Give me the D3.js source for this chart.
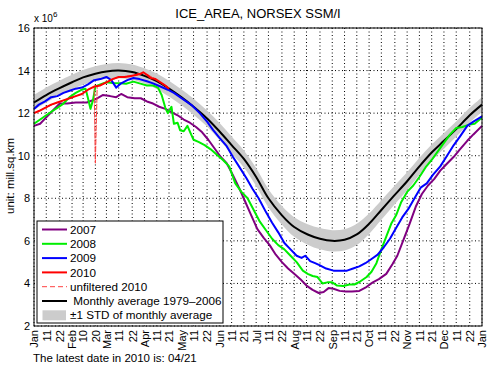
<!DOCTYPE html>
<html>
<head>
<meta charset="utf-8">
<script src="https://cdn.jsdelivr.net/npm/d3@7"></script>
<style>
  body { margin: 0; background: #fff; }
  svg { display: block; font-family: "Liberation Sans", Arial, sans-serif; }
</style>
</head>
<body>
<div id="chart"></div>
<script>
// x ticks: day of year and labels
const xTickDays = [1, 11, 22, 32, 41, 51, 60, 70, 81, 91, 101, 111, 121, 131, 142, 152, 162, 172,
  182, 192, 203, 213, 223, 234, 244, 254, 264, 274, 284, 295, 305, 315, 325, 335, 345, 356, 366];
const xTickLabels = ['Jan', '11', '22', 'Feb', '10', '20', 'Mar', '11', '22', 'Apr', '11', '21',
  'May', '11', '22', 'Jun', '11', '21', 'Jul', '11', '22', 'Aug', '11', '22', 'Sep', '11', '21',
  'Oct', '11', '22', 'Nov', '11', '21', 'Dec', '11', '22', 'Jan'];
const yTicks = [2, 4, 6, 8, 10, 12, 14, 16];

// monthly average 1979-2006 [day, mill. sq km] and its std
const avgArea = [[1, 12.5], [11, 12.85], [21, 13.15], [32, 13.45], [41, 13.68], [51, 13.85], [60, 13.96],
  [70, 14.0], [81, 13.93], [91, 13.75], [101, 13.5], [111, 13.15], [121, 12.75], [131, 12.3],
  [142, 11.75], [152, 11.15], [162, 10.5], [172, 9.85], [182, 9.0], [192, 8.0], [203, 7.2],
  [213, 6.65], [224, 6.3], [234, 6.1], [244, 6.0], [254, 6.05], [264, 6.3], [274, 6.8], [284, 7.45],
  [294, 8.1], [305, 8.8], [315, 9.5], [325, 10.15], [335, 10.7], [345, 11.25], [356, 11.9], [366, 12.4]];
const avgStd = [0.35, 0.35, 0.35, 0.35, 0.35, 0.35, 0.35, 0.36, 0.36, 0.36, 0.36, 0.37, 0.37, 0.38,
  0.38, 0.4, 0.4, 0.4, 0.42, 0.43, 0.44, 0.46, 0.48, 0.5, 0.5, 0.5, 0.5, 0.48, 0.46, 0.44,
  0.42, 0.4, 0.38, 0.37, 0.36, 0.35, 0.35];

const ice2007 = [[1, 11.4], [6, 11.5], [11, 11.8], [16, 12.1], [22, 12.45], [28, 12.45], [35, 12.5],
  [44, 12.5], [51, 12.65], [57, 12.85], [63, 12.8], [68, 12.75], [72, 12.9], [77, 12.75], [83, 12.7],
  [88, 12.7], [93, 12.55], [98, 12.45], [103, 12.3], [108, 12.2], [113, 12.05], [118, 11.9],
  [123, 11.7], [128, 11.55], [133, 11.35], [138, 11.1], [143, 10.75], [148, 10.35], [153, 9.95],
  [158, 9.65], [163, 9.1], [168, 8.5], [173, 7.85], [178, 7.2], [183, 6.55], [188, 6.15], [193, 5.8],
  [198, 5.35], [203, 5.0], [208, 4.7], [213, 4.45], [218, 4.2], [223, 3.9], [228, 3.7], [233, 3.55],
  [237, 3.6], [241, 3.78], [245, 3.75], [250, 3.65], [255, 3.62], [260, 3.62], [266, 3.65],
  [271, 3.8], [277, 4.05], [282, 4.2], [288, 4.45], [293, 4.9], [297, 5.3], [302, 6.05], [307, 6.8],
  [312, 7.6], [317, 8.2], [322, 8.6], [327, 8.9], [332, 9.3], [337, 9.6], [343, 9.95], [348, 10.3],
  [354, 10.7], [359, 11.0], [366, 11.4]];

const ice2008 = [[1, 11.5], [6, 11.7], [11, 11.9], [16, 12.1], [20, 12.25], [25, 12.45], [30, 12.75],
  [35, 12.95], [40, 13.1], [43, 13.15], [45, 12.7], [47, 12.2], [49, 12.6], [51, 13.25], [55, 13.35],
  [60, 13.45], [65, 13.42], [71, 13.4], [76, 13.38], [82, 13.48], [87, 13.4], [93, 13.3], [98, 13.3],
  [102, 13.2], [105, 12.85], [108, 12.25], [110, 12.0], [113, 12.3], [115, 11.5], [118, 11.55],
  [120, 11.2], [123, 11.15], [126, 11.4], [129, 11.0], [131, 10.75], [135, 10.65], [140, 10.5],
  [145, 10.3], [150, 10.05], [155, 9.8], [160, 9.5], [165, 8.7], [170, 8.3], [175, 8.0], [180, 7.45],
  [185, 6.9], [190, 6.5], [195, 6.1], [200, 5.8], [205, 5.6], [210, 5.3], [215, 5.0], [220, 4.6],
  [224, 4.45], [228, 4.35], [232, 4.3], [236, 4.0], [240, 4.05], [244, 4.05], [248, 3.9], [253, 3.88],
  [258, 3.95], [262, 3.95], [267, 4.1], [272, 4.3], [276, 4.55], [280, 4.95], [284, 5.6], [288, 6.2],
  [292, 6.8], [296, 7.2], [300, 7.8], [305, 8.3], [310, 8.6], [315, 9.0], [320, 9.45], [325, 9.8],
  [330, 10.2], [335, 10.6], [340, 11.0], [345, 11.3], [350, 11.35], [355, 11.45], [360, 11.5], [366, 11.8]];

const ice2009 = [[1, 12.2], [5, 12.4], [10, 12.55], [15, 12.75], [20, 12.8], [25, 12.95], [30, 13.05],
  [35, 13.15], [40, 13.2], [45, 13.35], [50, 13.55], [55, 13.6], [60, 13.7], [64, 13.55], [68, 13.2],
  [72, 13.4], [77, 13.55], [82, 13.65], [87, 13.6], [93, 13.5], [98, 13.4], [104, 13.25], [110, 13.1],
  [115, 12.95], [120, 12.75], [125, 12.55], [130, 12.35], [136, 12.0], [142, 11.6], [147, 11.2],
  [152, 10.85], [158, 10.45], [163, 9.95], [168, 9.5], [174, 8.95], [179, 8.45], [184, 8.0], [190, 7.35],
  [195, 6.85], [200, 6.4], [205, 5.9], [210, 5.6], [215, 5.3], [219, 5.2], [222, 5.3], [226, 5.05],
  [230, 4.95], [234, 4.85], [239, 4.7], [245, 4.6], [250, 4.6], [256, 4.6], [261, 4.7], [266, 4.8],
  [271, 4.95], [276, 5.15], [281, 5.35], [286, 5.7], [291, 6.1], [296, 6.6], [301, 7.1], [306, 7.5],
  [311, 8.0], [316, 8.5], [321, 8.7], [326, 9.1], [332, 9.5], [337, 9.95], [343, 10.5], [348, 10.9],
  [354, 11.4], [359, 11.6], [366, 11.85]];

const ice2010 = [[1, 12.0], [5, 12.1], [10, 12.25], [15, 12.4], [20, 12.5], [25, 12.6], [30, 12.7],
  [35, 12.8], [40, 12.9], [45, 13.1], [50, 13.25], [55, 13.3], [60, 13.45], [65, 13.6], [70, 13.7],
  [75, 13.7], [80, 13.75], [85, 13.8], [88, 13.85], [90, 13.92], [93, 13.8], [96, 13.65], [100, 13.6],
  [104, 13.45], [108, 13.3], [111, 13.15]];

const ice2010raw = [[1, 12.0], [10, 12.25], [20, 12.5], [30, 12.7], [40, 12.9], [45, 13.1], [50, 13.25],
  [51, 9.65], [52.5, 13.3], [55, 13.3], [60, 13.45], [70, 13.7], [80, 13.75], [90, 13.92], [100, 13.6],
  [111, 13.15]];

function drawIceChart() {
  const W = 492, H = 369;
  const margin = { top: 28, right: 10, bottom: 43, left: 34 };
  const width = W - margin.left - margin.right;
  const height = H - margin.top - margin.bottom;

  const svg = d3.select('#chart').append('svg')
      .attr('width', W)
      .attr('height', H);

  const g = svg.append('g')
      .attr('transform', `translate(${margin.left},${margin.top})`);

  const x = d3.scaleLinear().domain([1, 366]).range([0, width]);
  const y = d3.scaleLinear().domain([2, 16]).range([height, 0]);

  // dotted grid
  g.append('g').selectAll('line.vgrid')
    .data(xTickDays)
    .enter().append('line')
      .attr('x1', d => x(d)).attr('x2', d => x(d))
      .attr('y1', 0).attr('y2', height)
      .attr('stroke', '#000')
      .attr('stroke-width', 1)
      .attr('stroke-dasharray', '1,2.5');

  g.append('g').selectAll('line.hgrid')
    .data(yTicks)
    .enter().append('line')
      .attr('x1', 0).attr('x2', width)
      .attr('y1', d => y(d)).attr('y2', d => y(d))
      .attr('stroke', '#000')
      .attr('stroke-width', 1)
      .attr('stroke-dasharray', '1,2.5');

  // std band
  const band = d3.area()
    .x(d => x(d[0]))
    .y0((d, i) => y(d[1] - avgStd[i]))
    .y1((d, i) => y(d[1] + avgStd[i]))
    .curve(d3.curveCatmullRom);

  g.append('path')
    .datum(avgArea)
    .attr('d', band)
    .attr('fill', '#cccccc');

  const line = d3.line()
    .x(d => x(d[0]))
    .y(d => y(d[1]));

  g.append('path')
    .datum(avgArea)
    .attr('d', line.curve(d3.curveCatmullRom))
    .attr('fill', 'none')
    .attr('stroke', '#000')
    .attr('stroke-width', 2);

  line.curve(d3.curveLinear);

  const series = [
    { data: ice2007, color: '#800080' },
    { data: ice2008, color: '#00ee00' },
    { data: ice2009, color: '#0000ff' }
  ];

  series.forEach(s => {
    g.append('path')
      .datum(s.data)
      .attr('d', line)
      .attr('fill', 'none')
      .attr('stroke', s.color)
      .attr('stroke-width', 2)
      .attr('stroke-linejoin', 'round');
  });

  g.append('path')
    .datum(ice2010raw)
    .attr('d', line)
    .attr('fill', 'none')
    .attr('stroke', '#ff4040')
    .attr('stroke-width', 1)
    .attr('stroke-dasharray', '6,1');

  g.append('path')
    .datum(ice2010)
    .attr('d', line)
    .attr('fill', 'none')
    .attr('stroke', '#ff0000')
    .attr('stroke-width', 2)
    .attr('stroke-linejoin', 'round');

  // axes
  const xAxis = d3.axisBottom(x)
    .tickValues(xTickDays)
    .tickFormat((d, i) => xTickLabels[i])
    .tickSize(0);

  const xg = g.append('g')
      .attr('transform', `translate(0,${height})`)
      .call(xAxis);
  xg.select('.domain').remove();
  xg.selectAll('text')
      .attr('x', -4)
      .attr('y', 0)
      .attr('dy', '0.35em')
      .attr('transform', 'rotate(-90)')
      .style('text-anchor', 'end')
      .style('font-size', '11px')
      .style('font-family', '"Liberation Sans", Arial, sans-serif');

  const yAxis = d3.axisLeft(y).tickValues(yTicks).tickSize(0).tickPadding(4);
  const yg = g.append('g').call(yAxis);
  yg.select('.domain').remove();
  yg.selectAll('text')
      .style('font-size', '11px')
      .style('font-family', '"Liberation Sans", Arial, sans-serif');

  // box
  g.append('rect')
    .attr('width', width)
    .attr('height', height)
    .attr('fill', 'none')
    .attr('stroke', '#000')
    .attr('stroke-width', 1);

  // exponent label
  const expo = svg.append('text')
      .attr('x', margin.left)
      .attr('y', 22)
      .style('font-size', '10px')
      .text('x 10');
  expo.append('tspan')
      .attr('dy', -5)
      .style('font-size', '8px')
      .text('6');

  // title
  svg.append('text')
    .attr('x', margin.left + width / 2)
    .attr('y', 18)
    .attr('text-anchor', 'middle')
    .style('font-size', '13px')
    .text('ICE_AREA, NORSEX SSM/I');

  // y label
  svg.append('text')
    .attr('transform', `translate(14,${margin.top + 148}) rotate(-90)`)
    .attr('text-anchor', 'middle')
    .style('font-size', '11.5px')
    .text('unit: mill.sq.km');

  // bottom note
  svg.append('text')
    .attr('x', 33)
    .attr('y', 362)
    .style('font-size', '11.5px')
    .text('The latest date in 2010 is: 04/21');

  // legend
  const legendItems = [
    { label: '2007', color: '#800080', type: 'line' },
    { label: '2008', color: '#00ee00', type: 'line' },
    { label: '2009', color: '#0000ff', type: 'line' },
    { label: '2010', color: '#ff0000', type: 'line' },
    { label: 'unfiltered 2010', color: '#ff4040', type: 'dash' },
    { label: ' Monthly average 1979\u20132006', color: '#000', type: 'line' },
    { label: '\u00b11 STD of monthly average', color: '#cccccc', type: 'patch' }
  ];

  const legend = svg.append('g')
      .attr('transform', 'translate(37,221)');

  legend.append('rect')
    .attr('width', 186)
    .attr('height', 102)
    .attr('fill', '#fff')
    .attr('stroke', '#000')
    .attr('stroke-width', 1);

  legendItems.forEach((item, i) => {
    const row = legend.append('g')
        .attr('transform', `translate(0,${8.5 + i * 14.3})`);
    if (item.type === 'patch') {
      row.append('rect')
        .attr('x', 5.5).attr('y', -5)
        .attr('width', 23.5).attr('height', 10)
        .attr('fill', item.color);
    } else {
      row.append('line')
        .attr('x1', 5).attr('x2', 30)
        .attr('stroke', item.color)
        .attr('stroke-width', item.type === 'dash' ? 1 : 2)
        .attr('stroke-dasharray', item.type === 'dash' ? '5,3' : null);
    }
    row.append('text')
      .attr('x', 33)
      .attr('dy', '0.35em')
      .style('font-size', '11.7px')
      .style('white-space', 'pre')
      .text(item.label);
  });
}

drawIceChart();
</script>
</body>
</html>
